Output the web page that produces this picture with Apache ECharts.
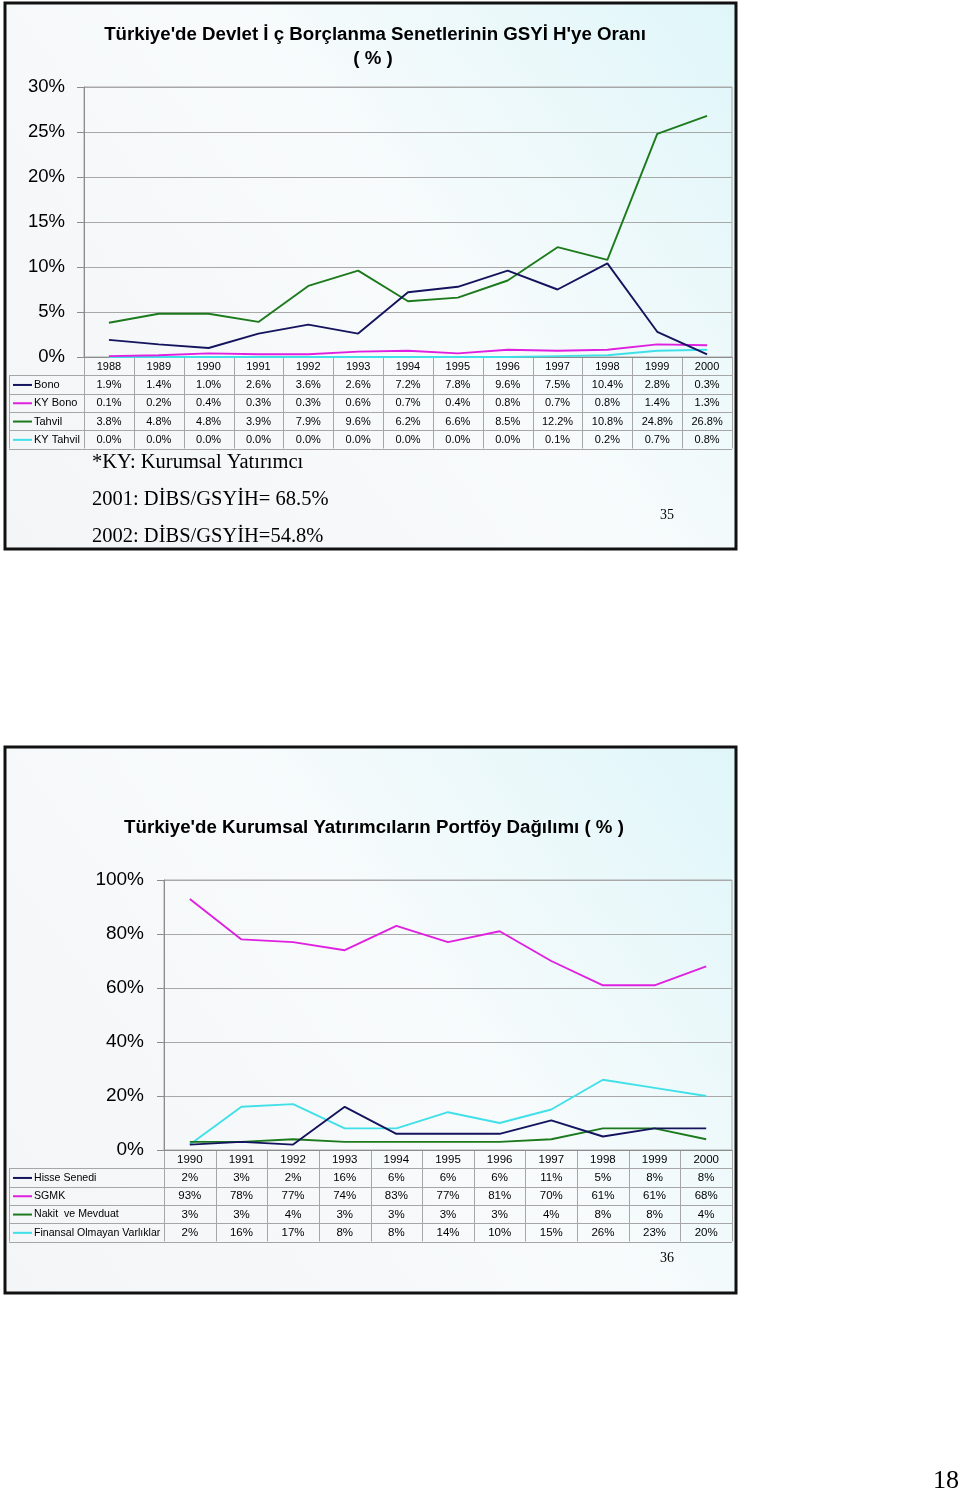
<!DOCTYPE html>
<html><head><meta charset="utf-8">
<script src="https://cdn.jsdelivr.net/npm/echarts@6/dist/echarts.min.js"></script>
<style>html,body{margin:0;padding:0;background:#fff}#c{width:960px;height:1494px}</style>
</head><body><div id="c"></div>
<script>
// ---------- Data: chart 1 ----------
const years1 = ['1988','1989','1990','1991','1992','1993','1994','1995','1996','1997','1998','1999','2000'];
const bono     = [1.9,1.4,1.0,2.6,3.6,2.6,7.2,7.8,9.6,7.5,10.4,2.8,0.3];
const kyBono   = [0.1,0.2,0.4,0.3,0.3,0.6,0.7,0.4,0.8,0.7,0.8,1.4,1.3];
const tahvil   = [3.8,4.8,4.8,3.9,7.9,9.6,6.2,6.6,8.5,12.2,10.8,24.8,26.8];
const kyTahvil = [0.0,0.0,0.0,0.0,0.0,0.0,0.0,0.0,0.0,0.1,0.2,0.7,0.8];
const names1 = ['Bono','KY Bono','Tahvil','KY Tahvil'];
const yMax1 = 30, yStep1 = 5;

// ---------- Data: chart 2 ----------
const years2 = ['1990','1991','1992','1993','1994','1995','1996','1997','1998','1999','2000'];
const hisse    = [2,3,2,16,6,6,6,11,5,8,8];
const sgmk     = [93,78,77,74,83,77,81,70,61,61,68];
const nakit    = [3,3,4,3,3,3,3,4,8,8,4];
const finansal = [2,16,17,8,8,14,10,15,26,23,20];
const names2 = ['Hisse Senedi','SGMK','Nakit  ve Mevduat','Finansal Olmayan Varlıklar'];
const yMax2 = 100, yStep2 = 20;

const colors = ['#14145e','#e020e0','#1c7a1c','#40e0e8'];
const FONT = "'Liberation Sans', Arial, sans-serif";
const SERIF = "'Liberation Serif', 'Times New Roman', serif";

// ---------- Layout ----------
const G1 = {left:84, top:87, width:648, height:270};
const G2 = {left:164, top:880, width:568, height:270};
const ROW = 18.3;
const TABLE_LEFT = 9;

const chart = echarts.init(document.getElementById('c'), null, {renderer:'canvas'});

function rowAxes(gridIndex, cats, series, fmt, fontSize) {
  const axes = [{
    type:'category', gridIndex, data:cats, boundaryGap:true,
    axisLine:{show:true, lineStyle:{color:'#8c8c8c', width:1}},
    axisTick:{show:false},
    axisLabel:{color:'#000', fontSize, fontFamily:FONT, margin:ROW/2+0.5, verticalAlign:'middle', interval:0}
  }];
  series.forEach((s, k) => {
    axes.push({
      type:'category', gridIndex, data:cats, boundaryGap:true, position:'bottom',
      offset: ROW*(k+1),
      axisLine:{show:false}, axisTick:{show:false}, splitLine:{show:false},
      axisLabel:{color:'#000', fontSize, fontFamily:FONT, margin:ROW/2+0.5, verticalAlign:'middle', interval:0,
        formatter:(v, i) => fmt(s[i])}
    });
  });
  return axes;
}

const s1 = [bono, kyBono, tahvil, kyTahvil];
const s2 = [hisse, sgmk, nakit, finansal];
const xAxes = rowAxes(0, years1, s1, v => v.toFixed(1) + '%', 11)
  .concat(rowAxes(1, years2, s2, v => v + '%', 11.5));

function yAxis(gridIndex, max, step, fontSize, margin) {
  return {
    type:'value', gridIndex, min:0, max, interval:step,
    axisLine:{show:true, lineStyle:{color:'#8c8c8c'}},
    axisTick:{show:true, length:7, lineStyle:{color:'#8c8c8c'}},
    splitLine:{show:true, lineStyle:{color:'#a8a8a8', width:1}},
    axisLabel:{formatter:'{value}%', color:'#000', fontSize, fontFamily:FONT, margin}
  };
}

const series = [];
s1.forEach((d, k) => series.push({
  name:names1[k], type:'line', xAxisIndex:0, yAxisIndex:0, data:d, symbol:'none',
  lineStyle:{color:colors[k], width:1.9}, z: 10 - k
}));
s2.forEach((d, k) => series.push({
  name:names2[k], type:'line', xAxisIndex:5, yAxisIndex:1, data:d, symbol:'none',
  lineStyle:{color:colors[k], width:1.9}, z: 10 - k
}));

// ---------- Graphic (slides, table grid, legend keys, texts) ----------
function slideBg(x, y, w, h) {
  return {type:'rect', z:-100, shape:{x, y, width:w, height:h},
    style:{fill:new echarts.graphic.LinearGradient(0,1,1,0,[
      {offset:0, color:'#f3f5f7'},{offset:0.55, color:'#f8fbfc'},{offset:1, color:'#dff6f9'}]),
      stroke:'#111', lineWidth:3}};
}
function tableGraphics(G, n, names, fontSize) {
  const els = [];
  const bottom = G.top + G.height;
  const right = G.left + G.width;
  const lc = '#a6a6a6';
  for (let r = 1; r <= 5; r++) {
    const y = Math.round(bottom + r*ROW) + 0.5;
    els.push({type:'line', shape:{x1:TABLE_LEFT, y1:y, x2:right, y2:y}, style:{stroke:lc, lineWidth:1}});
  }
  for (let i = 0; i <= n; i++) {
    const x = Math.round(G.left + i*G.width/n) + 0.5;
    els.push({type:'line', shape:{x1:x, y1:bottom, x2:x, y2:bottom + 5*ROW}, style:{stroke:lc, lineWidth:1}});
  }
  els.push({type:'line', shape:{x1:TABLE_LEFT+0.5, y1:bottom+ROW, x2:TABLE_LEFT+0.5, y2:bottom+5*ROW}, style:{stroke:lc, lineWidth:1}});
  names.forEach((nm, k) => {
    const cy = bottom + (k+1.5)*ROW + 0.5;
    els.push({type:'line', shape:{x1:13, y1:cy, x2:32, y2:cy}, style:{stroke:colors[k], lineWidth:2}});
    els.push({type:'text', x:34, y:cy, style:{text:nm, fill:'#000', font:fontSize+'px '+FONT, textVerticalAlign:'middle', textAlign:'left'}});
  });
  return els;
}
function txt(text, x, y, font, align) {
  return {type:'text', x, y, style:{text, fill:'#000', font, textAlign:align||'center', textVerticalAlign:'middle'}};
}

const graphics = [
  slideBg(5, 3, 731, 546),
  slideBg(5, 747, 731, 546),
  txt("Türkiye'de Devlet İ ç Borçlanma Senetlerinin GSYİ H'ye Oranı", 375, 35, 'bold 18.7px '+FONT),
  txt('( % )', 373, 59, 'bold 18.7px '+FONT),
  txt("Türkiye'de Kurumsal Yatırımcıların Portföy Dağılımı ( % )", 374, 828, 'bold 18.7px '+FONT),
  txt('*KY: Kurumsal Yatırımcı', 92, 463, '20.5px '+SERIF, 'left'),
  txt('2001: DİBS/GSYİH= 68.5%', 92, 500, '20.5px '+SERIF, 'left'),
  txt('2002: DİBS/GSYİH=54.8%', 92, 537, '20.5px '+SERIF, 'left'),
  txt('35', 667, 515, '14px '+SERIF),
  txt('36', 667, 1258, '14px '+SERIF),
  txt('18', 946, 1481, '26px '+SERIF)
].concat(tableGraphics(G1, years1.length, names1, 11))
 .concat(tableGraphics(G2, years2.length, names2, 10.6));

chart.setOption({
  animation:false,
  backgroundColor:'#ffffff',
  textStyle:{fontFamily:FONT},
  grid:[
    Object.assign({show:true, borderColor:'#a8a8a8', borderWidth:1, backgroundColor:'transparent'}, G1),
    Object.assign({show:true, borderColor:'#a8a8a8', borderWidth:1, backgroundColor:'transparent'}, G2)
  ],
  xAxis:xAxes,
  yAxis:[yAxis(0, yMax1, yStep1, 18.5, 19), yAxis(1, yMax2, yStep2, 19, 20)],
  series,
  graphic:{elements:graphics}
});
</script></body></html>
